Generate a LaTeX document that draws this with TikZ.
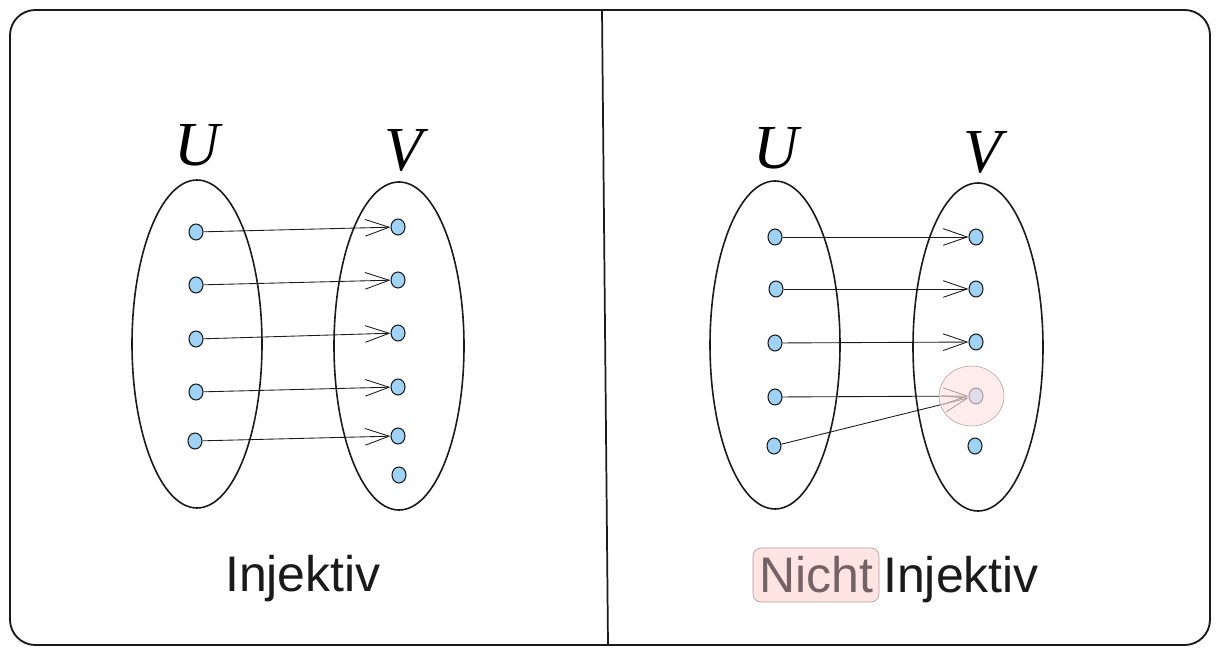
\documentclass[tikz,border=0pt]{standalone}
\usepackage{fontspec}
\setmainfont{Liberation Sans}
\newfontfamily\serifit{Liberation Serif}
\usetikzlibrary{shapes.geometric,arrows.meta}
\definecolor{dotblue}{HTML}{A0D2F5}
\definecolor{ink}{HTML}{1A1A1A}
\definecolor{pinkfill}{HTML}{FFE4E4}
\definecolor{pinkline}{HTML}{B09A9A}
\definecolor{nichttext}{HTML}{756262}
\tikzset{
  setell/.style={draw=ink, line width=1.2pt, ellipse, inner sep=0pt, minimum width=97.5pt, minimum height=246pt},
  pt/.style={draw=ink, fill=dotblue, line width=0.8pt, ellipse, inner sep=0pt, minimum width=10.5pt, minimum height=12pt},
  arr/.style={draw=ink, line width=0.65pt, -{Straight Barb[length=18pt,width=12.5pt,line width=0.65pt]}},
  setlabel/.style={text=black, font=\serifit\itshape\fontsize{47}{50}\selectfont, inner sep=0pt},
  caption/.style={text=ink, font=\fontsize{37.5}{42}\selectfont, inner sep=0pt, anchor=base}
}
\begin{document}
\begin{tikzpicture}[x=0.75pt,y=-0.75pt]
\useasboundingbox (0,0) rectangle (1220,655);
% frame
\draw[ink, line width=1.4pt, rounded corners=19pt] (10,10) rectangle (1210,645);
\coordinate (divtop) at (602,10);
\coordinate (divbot) at (608,645);
\draw[ink, line width=1.3pt] (divtop) -- (divbot);

% ---------- left panel ----------
\node[setell] (LU) at (197,344) {};
\node[setell] (LV) at (399,346) {};
\node[setlabel] (LUlab) at (197,145) {U};
\node[setlabel] (LVlab) at (404,150) {V};

\node[pt] (lu1) at (196,232) {};
\node[pt] (lu2) at (196,285) {};
\node[pt] (lu3) at (196,339) {};
\node[pt] (lu4) at (196,392) {};
\node[pt] (lu5) at (195,441) {};

\node[pt] (lv1) at (398,227) {};
\node[pt] (lv2) at (398,280) {};
\node[pt] (lv3) at (398,333) {};
\node[pt] (lv4) at (398,387) {};
\node[pt] (lv5) at (398,436) {};
\node[pt] (lv6) at (399,475) {};

\draw[arr] (lu1) -- (lv1);
\draw[arr] (lu2) -- (lv2);
\draw[arr] (lu3) -- (lv3);
\draw[arr] (lu4) -- (lv4);
\draw[arr] (lu5) -- (lv5);

\node[caption] (lcap) at (303,591) {Injektiv};

% ---------- right panel ----------
\node[setell] (RU) at (775,345) {};
\node[setell] (RV) at (978,347) {};
\node[setlabel] (RUlab) at (776,148) {U};
\node[setlabel] (RVlab) at (983,152) {V};

\node[pt] (ru1) at (775,237) {};
\node[pt] (ru2) at (776,289) {};
\node[pt] (ru3) at (775,343) {};
\node[pt] (ru4) at (775,397) {};
\node[pt] (ru5) at (774,446) {};

\node[pt] (rv1) at (976,237) {};
\node[pt] (rv2) at (976,289) {};
\node[pt] (rv3) at (976,342) {};
\node[pt] (rv4) at (976,396) {};
\node[pt] (rv5) at (975,446) {};

\draw[arr] (ru1) -- (rv1);
\draw[arr] (ru2) -- (rv2);
\draw[arr] (ru3) -- (rv3);
\draw[arr] (ru4) -- (rv4);
\draw[arr] (ru5) -- (rv4);

\node[ellipse, draw=pinkline, line width=0.4pt, fill=pinkfill, fill opacity=0.65, inner sep=0pt, minimum width=48.75pt, minimum height=45pt] (hl) at (971.5,396) {};

\node[caption, text=nichttext, fill=pinkfill, draw=pinkline, line width=0.5pt, rounded corners=6pt, inner xsep=4.5pt, text height=33pt, text depth=7.5pt] (nicht) at (816,592) {Nicht};
\node[caption] (rcap) at (961,592) {Injektiv};
\end{tikzpicture}
\end{document}
